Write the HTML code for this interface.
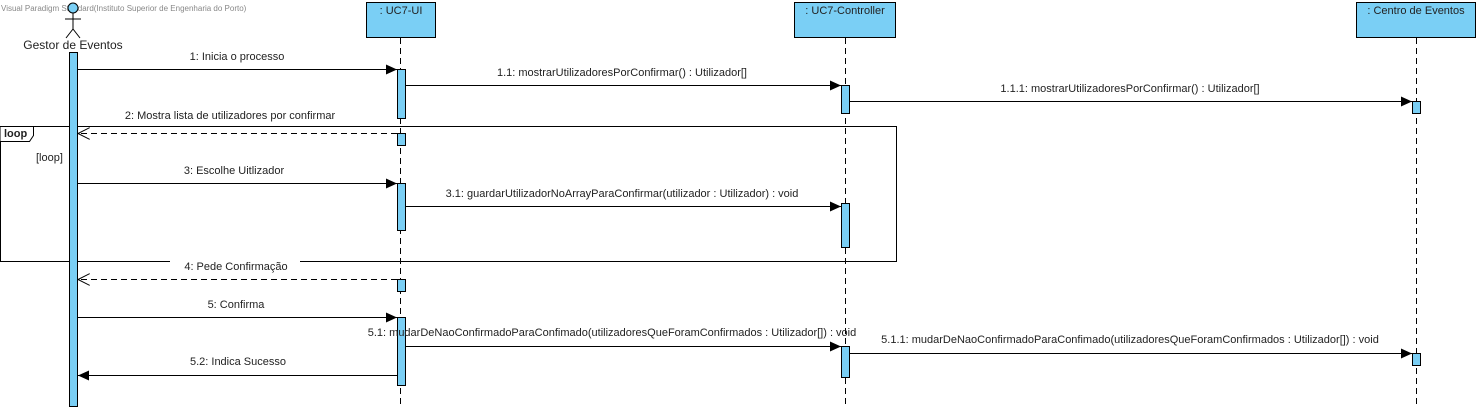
<!DOCTYPE html>
<html><head><meta charset="utf-8"><style>
html,body{margin:0;padding:0;background:#fff;width:1480px;height:410px;overflow:hidden}
text{font-family:"Liberation Sans",Arial,sans-serif;font-size:11px;fill:#222}
</style></head><body>
<svg width="1480" height="410" xmlns="http://www.w3.org/2000/svg">
<defs>
<marker id="f" markerWidth="12" markerHeight="10" refX="11" refY="5" orient="auto" markerUnits="userSpaceOnUse"><path d="M0,0 L11,5 L0,10 Z" fill="#000"/></marker>
<marker id="o" markerWidth="14" markerHeight="12" refX="12" refY="6" orient="auto" markerUnits="userSpaceOnUse"><path d="M0,0 L12,6 L0,12" fill="none" stroke="#000"/></marker>
</defs>
<text x="1" y="11" style="font-size:8px;fill:#888">Visual Paradigm Standard(Instituto Superior de Engenharia do Porto)</text>
<circle cx="73" cy="8" r="5" fill="#7ACFF5" stroke="#000"/>
<line x1="73" y1="13" x2="73" y2="29" stroke="#000"/>
<line x1="65" y1="19" x2="81" y2="19" stroke="#000"/>
<line x1="73" y1="29" x2="66" y2="38" stroke="#000"/>
<line x1="73" y1="29" x2="80" y2="38" stroke="#000"/>
<text x="73" y="49" text-anchor="middle" style="font-size:12px">Gestor de Eventos</text>
<rect x="366.5" y="2.5" width="69" height="35" fill="#7ACFF5" stroke="#000"/>
<text x="401" y="14" text-anchor="middle">: UC7-UI</text>
<rect x="794.5" y="2.5" width="101" height="35" fill="#7ACFF5" stroke="#000"/>
<text x="845" y="14" text-anchor="middle">: UC7-Controller</text>
<rect x="1356.5" y="2.5" width="119" height="35" fill="#7ACFF5" stroke="#000"/>
<text x="1416" y="14" text-anchor="middle">: Centro de Eventos</text>
<g stroke="#000" stroke-dasharray="6,4">
<line x1="400.5" y1="38" x2="400.5" y2="408"/>
<line x1="845.5" y1="38" x2="845.5" y2="408"/>
<line x1="1416.5" y1="38" x2="1416.5" y2="408"/>
</g>
<rect x="0.5" y="126.5" width="896" height="135" fill="none" stroke="#000"/>
<rect x="170" y="258" width="130" height="8" fill="#fff"/>
<path d="M0.5,126.5 H33.5 V135.5 L29.5,141.5 H0.5" fill="#fff" stroke="#000"/>
<text x="4" y="137" style="font-weight:bold">loop</text>
<text x="36" y="161">[loop]</text>
<g fill="#7ACFF5" stroke="#000">
<rect x="69.5" y="52.5" width="8" height="354"/>
<rect x="397.5" y="69.5" width="8" height="49"/>
<rect x="841.5" y="85.5" width="8" height="28"/>
<rect x="1412.5" y="101.5" width="8" height="12"/>
<rect x="397.5" y="133.5" width="8" height="12"/>
<rect x="397.5" y="183.5" width="8" height="47"/>
<rect x="841.5" y="203.5" width="8" height="44"/>
<rect x="397.5" y="279.5" width="8" height="12"/>
<rect x="397.5" y="317.5" width="8" height="68"/>
<rect x="841.5" y="346.5" width="8" height="31"/>
<rect x="1412.5" y="353.5" width="8" height="12"/>
</g>
<g stroke="#000" fill="none">
<line x1="78" y1="69.5" x2="397" y2="69.5" marker-end="url(#f)"/>
<line x1="406" y1="85.5" x2="841" y2="85.5" marker-end="url(#f)"/>
<line x1="850" y1="101.5" x2="1412" y2="101.5" marker-end="url(#f)"/>
<line x1="397" y1="133.5" x2="78" y2="133.5" stroke-dasharray="6,4" marker-end="url(#o)"/>
<line x1="78" y1="183.5" x2="397" y2="183.5" marker-end="url(#f)"/>
<line x1="406" y1="206.5" x2="841" y2="206.5" marker-end="url(#f)"/>
<line x1="397" y1="279.5" x2="78" y2="279.5" stroke-dasharray="6,4" marker-end="url(#o)"/>
<line x1="78" y1="317.5" x2="397" y2="317.5" marker-end="url(#f)"/>
<line x1="406" y1="346.5" x2="841" y2="346.5" marker-end="url(#f)"/>
<line x1="850" y1="353.5" x2="1412" y2="353.5" marker-end="url(#f)"/>
<line x1="397" y1="375.5" x2="78" y2="375.5" marker-end="url(#f)"/>
</g>
<text x="237" y="60" text-anchor="middle">1: Inicia o processo</text>
<text x="622" y="76" text-anchor="middle">1.1: mostrarUtilizadoresPorConfirmar() : Utilizador[]</text>
<text x="1130" y="92" text-anchor="middle">1.1.1: mostrarUtilizadoresPorConfirmar() : Utilizador[]</text>
<text x="230" y="119" text-anchor="middle">2: Mostra lista de utilizadores por confirmar</text>
<text x="234" y="174" text-anchor="middle">3: Escolhe Uitlizador</text>
<text x="622" y="197" text-anchor="middle">3.1: guardarUtilizadorNoArrayParaConfirmar(utilizador : Utilizador) : void</text>
<text x="236" y="270" text-anchor="middle">4: Pede Confirmação</text>
<text x="236" y="308" text-anchor="middle">5: Confirma</text>
<text x="612" y="336" text-anchor="middle">5.1: mudarDeNaoConfirmadoParaConfimado(utilizadoresQueForamConfirmados : Utilizador[]) : void</text>
<text x="1130" y="343" text-anchor="middle">5.1.1: mudarDeNaoConfirmadoParaConfimado(utilizadoresQueForamConfirmados : Utilizador[]) : void</text>
<text x="238" y="365" text-anchor="middle">5.2: Indica Sucesso</text>
</svg>
</body></html>
